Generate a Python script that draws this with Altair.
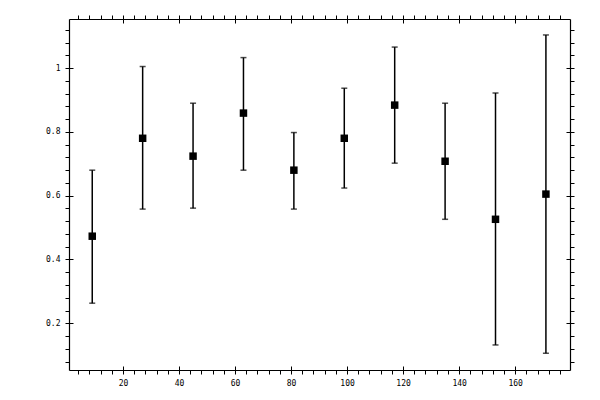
import altair as alt
import pandas as pd

# ---- data ----
x_vals = [9, 27, 45, 63, 81, 99, 117, 135, 153, 171]
y_vals = [0.473, 0.780, 0.724, 0.859, 0.680, 0.780, 0.884, 0.708, 0.526, 0.605]
lo_vals = [0.263, 0.558, 0.561, 0.680, 0.558, 0.624, 0.702, 0.526, 0.132, 0.106]
hi_vals = [0.680, 1.005, 0.890, 1.033, 0.798, 0.937, 1.066, 0.890, 0.922, 1.104]

x_major = [20, 40, 60, 80, 100, 120, 140, 160]
x_all = [v for v in range(4, 180, 4)]
y_major = [0.2, 0.4, 0.6, 0.8, 1.0]
y_all = [round(0.04 * k, 2) for k in range(2, 29)]

df = pd.DataFrame({"x": x_vals, "y": y_vals, "lo": lo_vals, "hi": hi_vals})

xs = alt.Scale(domain=[0.7, 179.6], nice=False, zero=False)
ys = alt.Scale(domain=[0.0535, 1.154], nice=False, zero=False)

FONT = "DejaVu Sans Mono"
common = dict(title=None, grid=False, tickColor="black", domainColor="black",
              tickWidth=1, domainWidth=1.2, labelFont=FONT, labelFontSize=8,
              labelColor="black", labelOverlap=False, labelFlush=False)

x_bottom = alt.Axis(orient="bottom", values=x_all, tickSize=4, labelPadding=5,
                    labelExpr="datum.value % 20 === 0 ? datum.label : ''", **common)
y_left = alt.Axis(orient="left", values=y_all, tickSize=4, labelPadding=5, format="~g",
                  labelExpr="abs(datum.value*5 - round(datum.value*5)) < 0.001 ? datum.label : ''",
                  **common)
x_top = alt.Axis(orient="top", values=x_all, tickSize=4, labels=False, **common)
y_right = alt.Axis(orient="right", values=y_all, tickSize=4, labels=False, **common)

inner = dict(common)
inner["domain"] = False
x_bottom_in = alt.Axis(orient="bottom", values=x_major, tickSize=4, offset=-4, labels=False, **inner)
y_left_in = alt.Axis(orient="left", values=y_major, tickSize=4, offset=-4, labels=False, **inner)
x_top_in = alt.Axis(orient="top", values=x_major, tickSize=4, offset=-4, labels=False, **inner)
y_right_in = alt.Axis(orient="right", values=y_major, tickSize=4, offset=-4, labels=False, **inner)

base = alt.Chart(df)

bars = base.mark_rule(color="black", strokeWidth=1.5).encode(
    x=alt.X("x:Q", scale=xs, axis=x_bottom),
    y=alt.Y("lo:Q", scale=ys, axis=y_left),
    y2="hi:Q",
)
cap_lo = base.mark_tick(color="black", orient="horizontal", size=6, thickness=1.5).encode(
    x=alt.X("x:Q", scale=xs, axis=x_top),
    y=alt.Y("lo:Q", scale=ys, axis=y_right),
)
cap_hi = base.mark_tick(color="black", orient="horizontal", size=6, thickness=1.5).encode(
    x=alt.X("x:Q", scale=xs, axis=x_bottom_in),
    y=alt.Y("hi:Q", scale=ys, axis=y_left_in),
)
pts = base.mark_point(shape="square", filled=True, color="black", opacity=1, size=56).encode(
    x=alt.X("x:Q", scale=xs, axis=x_top_in),
    y=alt.Y("y:Q", scale=ys, axis=y_right_in),
)

chart = (
    alt.layer(bars, cap_lo, cap_hi, pts)
    .resolve_axis(x="independent", y="independent")
    .properties(width=501, height=351,
                autosize=alt.AutoSizeParams(type="none"),
                padding={"left": 61, "top": 11, "right": 22, "bottom": 22})
    .configure_view(stroke=None)
    .configure(background="white")
)

chart.save("out.html", embed_options={"renderer": "svg", "actions": False})
